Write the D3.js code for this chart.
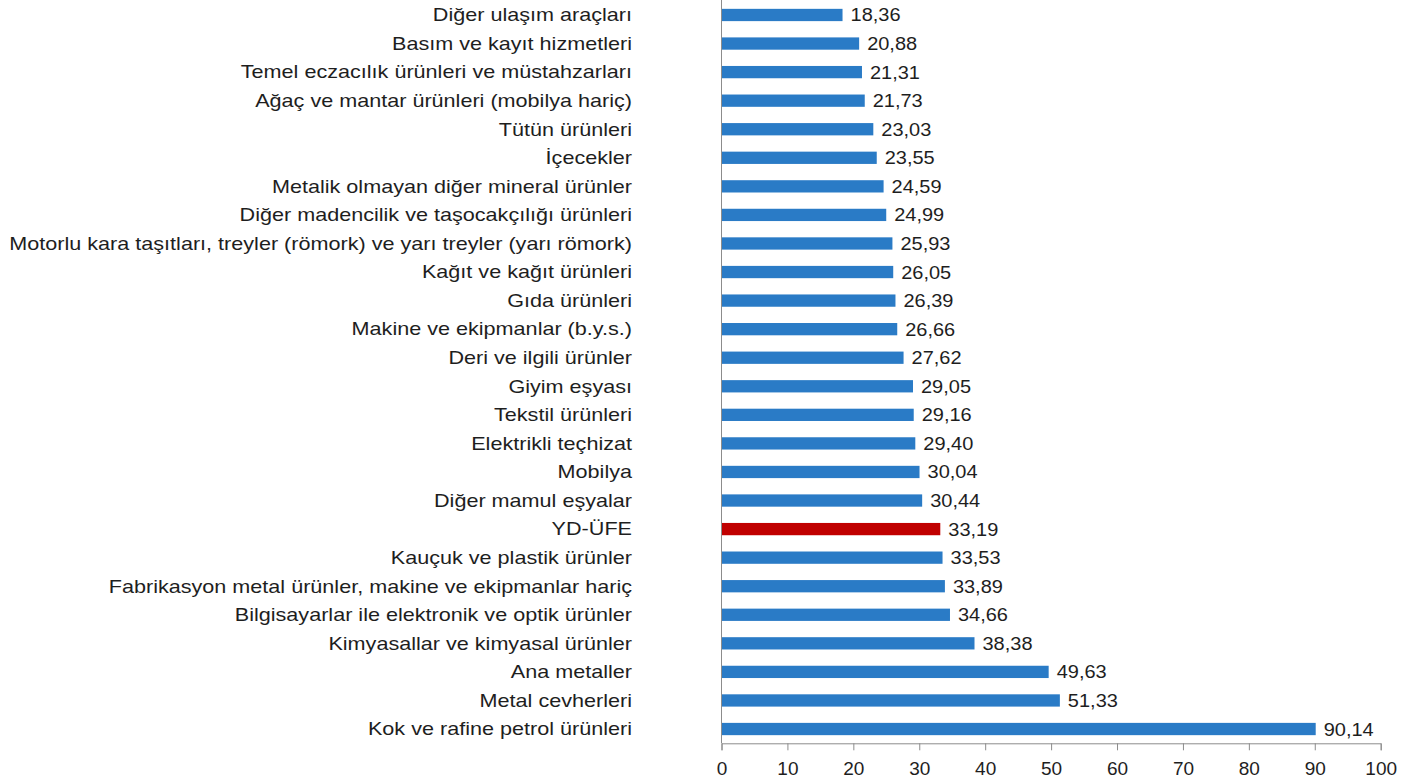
<!DOCTYPE html>
<html>
<head>
<meta charset="utf-8">
<script src="https://cdn.jsdelivr.net/npm/d3@7"></script>
<style>
  body { margin: 0; background: #fff; }
  text { font-family: "Liberation Sans", Arial, sans-serif; fill: #1e1e1e; }
</style>
</head>
<body>
<div id="chart"></div>
<script>
// categories, top to bottom
var categories = [
  "Diğer ulaşım araçları",
  "Basım ve kayıt hizmetleri",
  "Temel eczacılık ürünleri ve müstahzarları",
  "Ağaç ve mantar ürünleri (mobilya hariç)",
  "Tütün ürünleri",
  "İçecekler",
  "Metalik olmayan diğer mineral ürünler",
  "Diğer madencilik ve taşocakçılığı ürünleri",
  "Motorlu kara taşıtları, treyler (römork) ve yarı treyler (yarı römork)",
  "Kağıt ve kağıt ürünleri",
  "Gıda ürünleri",
  "Makine ve ekipmanlar (b.y.s.)",
  "Deri ve ilgili ürünler",
  "Giyim eşyası",
  "Tekstil ürünleri",
  "Elektrikli teçhizat",
  "Mobilya",
  "Diğer mamul eşyalar",
  "YD-ÜFE",
  "Kauçuk ve plastik ürünler",
  "Fabrikasyon metal ürünler, makine ve ekipmanlar hariç",
  "Bilgisayarlar ile elektronik ve optik ürünler",
  "Kimyasallar ve kimyasal ürünler",
  "Ana metaller",
  "Metal cevherleri",
  "Kok ve rafine petrol ürünleri"
];

var values = [18.36, 20.88, 21.31, 21.73, 23.03, 23.55, 24.59, 24.99, 25.93, 26.05,
  26.39, 26.66, 27.62, 29.05, 29.16, 29.40, 30.04, 30.44, 33.19, 33.53,
  33.89, 34.66, 38.38, 49.63, 51.33, 90.14];

var highlight = "YD-ÜFE";
var xTicks = [0, 10, 20, 30, 40, 50, 60, 70, 80, 90, 100];

var data = categories.map(function(c, i) { return { name: c, value: values[i] }; });

var width = 1402, height = 782;

var svg = d3.select("#chart")
  .append("svg")
  .attr("width", width)
  .attr("height", height);

var x = d3.scaleLinear()
  .domain([0, 100])
  .range([721.5, 1380.7]);

var y = d3.scaleBand()
  .domain(categories)
  .range([0.7, 743.3])
  .paddingInner(0.57)
  .paddingOuter(0.285);

// bars
svg.append("g")
  .selectAll("rect")
  .data(data)
  .enter()
  .append("rect")
  .attr("x", x(0))
  .attr("y", function(d) { return y(d.name); })
  .attr("width", function(d) { return x(d.value) - x(0); })
  .attr("height", y.bandwidth())
  .attr("fill", function(d) { return d.name == highlight ? "#c00000" : "#2a7bc6"; });

// category labels (the source text is drawn slightly wide)
svg.append("g")
  .selectAll("text")
  .data(data)
  .enter()
  .append("text")
  .attr("transform", function(d) {
    return "translate(632," + (y(d.name) + y.bandwidth() / 2) + ") scale(1.2,1)";
  })
  .attr("text-anchor", "end")
  .attr("dy", "0.35em")
  .style("font-size", "18px")
  .text(function(d) { return d.name; });

// value labels
svg.append("g")
  .selectAll("text")
  .data(data)
  .enter()
  .append("text")
  .attr("transform", function(d) {
    return "translate(" + (x(d.value) + 8) + "," + (y(d.name) + y.bandwidth() / 2) + ") scale(1.08,1)";
  })
  .attr("dy", "0.35em")
  .style("font-size", "18.5px")
  .text(function(d) { return d3.format(".2f")(d.value).replace(".", ","); });

// vertical axis line
svg.append("line")
  .attr("x1", x(0)).attr("x2", x(0))
  .attr("y1", 0).attr("y2", 743.3)
  .attr("stroke", "#8c8c8c")
  .attr("stroke-width", 1);

// bottom axis
var xAxis = svg.append("g")
  .attr("transform", "translate(0,743.3)")
  .call(d3.axisBottom(x).tickValues(xTicks).tickSize(7).tickSizeOuter(7).tickPadding(11).tickFormat(d3.format("d")));

xAxis.select(".domain").attr("stroke", "#8c8c8c");
xAxis.selectAll(".tick line").attr("stroke", "#8c8c8c");
xAxis.selectAll(".tick text")
  .style("font-size", "19px")
  .style("font-family", "'Liberation Sans', Arial, sans-serif")
  .attr("fill", "#1e1e1e");
</script>
</body>
</html>
